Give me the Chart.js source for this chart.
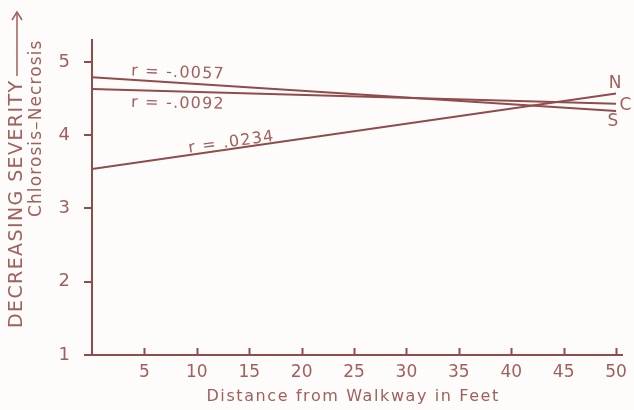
<!DOCTYPE html>
<html>
<head>
<meta charset="utf-8">
<script src="https://cdn.jsdelivr.net/npm/chart.js@4"></script>
<style>
  html, body { margin: 0; padding: 0; background: #fefcfb; }
  #wrap { width: 634px; height: 410px; }
</style>
</head>
<body>
<div id="wrap"><canvas id="chart" width="634" height="410"></canvas></div>
<script>
// Regression lines (distance in feet -> severity score)
const distanceEnds = [0, 50];
const northValues = [3.54, 4.57];   // r = .0234
const centerValues = [4.63, 4.43];  // r = -.0092
const southValues = [4.79, 4.33];   // r = -.0057

const xTicks = [5, 10, 15, 20, 25, 30, 35, 40, 45, 50];
const yTicks = [1, 2, 3, 4, 5];

// text annotations placed in data units: [text, x, y, rotation deg]
const lineLabels = [
  ["r = -.0057", 8.2, 4.85, 2],
  ["r = -.0092", 8.2, 4.43, 1],
  ["r = .0234", 13.3, 3.9, -8]
];
const endLabels = [
  ["N", 49.9, 4.71],
  ["C", 50.9, 4.41],
  ["S", 49.7, 4.19]
];

const INK = "#a0605c";
const LINE = "#8f4c4b";
const FONT = "'DejaVu Sans', sans-serif";

function toPoints(values) {
  return distanceEnds.map((x, i) => ({ x: x, y: values[i] }));
}

const annotatePlugin = {
  id: "annotate",
  afterDraw(chart) {
    const ctx = chart.ctx;
    const xs = chart.scales.x;
    const ys = chart.scales.y;
    const area = chart.chartArea;
    ctx.save();

    // x axis ticks point upward into the plot
    ctx.strokeStyle = LINE;
    ctx.lineWidth = 2;
    xTicks.forEach(v => {
      const px = Math.round(xs.getPixelForValue(v)) + 0.5;
      ctx.beginPath();
      ctx.moveTo(px, area.bottom);
      ctx.lineTo(px, area.bottom - 7);
      ctx.stroke();
    });

    ctx.fillStyle = INK;
    ctx.textAlign = "center";
    ctx.textBaseline = "middle";

    // r labels along the lines
    ctx.font = "16px " + FONT;
    ctx.letterSpacing = "1.2px";
    lineLabels.forEach(([t, x, y, rot]) => {
      ctx.save();
      ctx.translate(xs.getPixelForValue(x), ys.getPixelForValue(y));
      ctx.rotate(rot * Math.PI / 180);
      ctx.fillText(t, 0, 0);
      ctx.restore();
    });

    // N / C / S
    ctx.font = "17px " + FONT;
    ctx.letterSpacing = "0px";
    endLabels.forEach(([t, x, y]) => {
      ctx.fillText(t, xs.getPixelForValue(x), ys.getPixelForValue(y));
    });

    // x axis title
    ctx.font = "16px " + FONT;
    ctx.letterSpacing = "1.6px";
    ctx.fillText("Distance from Walkway in Feet", (area.left + area.right) / 2 - 4, 397);

    // y axis titles (rotated)
    ctx.save();
    ctx.translate(17, 0);
    ctx.rotate(-Math.PI / 2);
    ctx.font = "19px " + FONT;
    ctx.letterSpacing = "1.4px";
    ctx.textAlign = "left";
    ctx.fillText("DECREASING SEVERITY", -328, 0);
    // arrow
    ctx.strokeStyle = INK;
    ctx.lineWidth = 1.5;
    ctx.beginPath();
    ctx.moveTo(-76, 0);
    ctx.lineTo(-12, 0);
    ctx.stroke();
    ctx.beginPath();
    ctx.moveTo(-20, -5);
    ctx.lineTo(-12, 0);
    ctx.lineTo(-20, 5);
    ctx.stroke();
    ctx.restore();

    ctx.save();
    ctx.translate(37, 0);
    ctx.rotate(-Math.PI / 2);
    ctx.font = "17px " + FONT;
    ctx.letterSpacing = "1.1px";
    ctx.textAlign = "left";
    ctx.fillText("Chlorosis\u2013Necrosis", -217, 0);
    ctx.restore();

    ctx.restore();
  }
};

const lineStyle = {
  showLine: true,
  borderColor: LINE,
  borderWidth: 2,
  pointRadius: 0,
  fill: false
};

new Chart(document.getElementById("chart"), {
  type: "scatter",
  data: {
    datasets: [
      Object.assign({ label: "N", data: toPoints(northValues) }, lineStyle),
      Object.assign({ label: "C", data: toPoints(centerValues) }, lineStyle),
      Object.assign({ label: "S", data: toPoints(southValues) }, lineStyle)
    ]
  },
  options: {
    responsive: false,
    animation: false,
    layout: { padding: { top: 40, right: 10, left: 0, bottom: 0 } },
    plugins: {
      legend: { display: false },
      tooltip: { enabled: false }
    },
    scales: {
      x: {
        type: "linear",
        min: 0,
        max: 50.6,
        afterBuildTicks: s => { s.ticks = xTicks.map(v => ({ value: v })); },
        afterFit: s => { s.height = 55; },
        grid: { display: false, drawTicks: false },
        border: { display: true, color: LINE, width: 2 },
        ticks: {
          color: INK,
          padding: 7,
          maxRotation: 0,
          autoSkip: false,
          font: { family: FONT, size: 17 }
        }
      },
      y: {
        type: "linear",
        min: 1,
        max: 5.3,
        afterBuildTicks: s => { s.ticks = yTicks.map(v => ({ value: v })); },
        afterFit: s => { s.width = 92; },
        grid: { drawOnChartArea: false, drawTicks: true, tickLength: 8, color: LINE, lineWidth: 2 },
        border: { display: true, color: LINE, width: 2 },
        ticks: {
          color: INK,
          padding: 14,
          autoSkip: false,
          font: { family: FONT, size: 18 }
        }
      }
    }
  },
  plugins: [annotatePlugin]
});
</script>
</body>
</html>
